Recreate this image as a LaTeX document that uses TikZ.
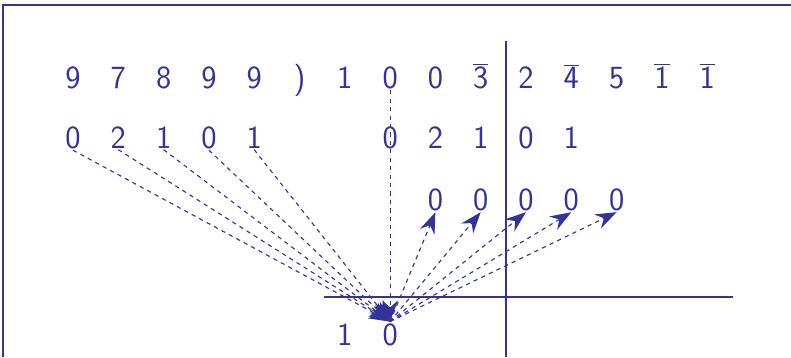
\documentclass[tikz,border=0pt]{standalone}
\usepackage{fontspec}
\usetikzlibrary{arrows.meta}
\definecolor{slblue}{RGB}{51,51,153}
\newcommand{\nbar}[1]{$\overline{\mbox{#1}}$}

\begin{document}
\begin{tikzpicture}[x=0.025cm, y=-0.025cm,
    digit/.style={anchor=base, inner sep=1pt, text=slblue, font=\sffamily\fontsize{23}{28}\selectfont},
    rule/.style={draw=slblue, line width=1pt},
    carry/.style={-{Stealth[length=15pt, width=11pt, inset=5pt]}, dashed, draw=slblue, line width=0.8pt},
]
\useasboundingbox (0,0) rectangle (791,357);

% Frame
\draw[slblue, line width=1.5pt] (3,357) -- (3,5) -- (791,5);

% Dividend and divisor
\foreach \d [count=\i from 0] in {9,7,8,9,9,),1,0,0,\nbar{3},2,\nbar{4},5,\nbar{1},\nbar{1}}
    \node[digit] (a\i) at (73+45.3*\i, 88) {\d};

% Second row
\foreach \d [count=\i from 0] in {0,2,1,0,1}
    \node[digit] (b\i) at (73+45.3*\i, 148) {\d};
\foreach \d [count=\i from 7] in {0,2,1,0,1}
    \node[digit] (b\i) at (73+45.3*\i, 148) {\d};

% Third row
\foreach \i in {8,...,12}
    \node[digit] (c\i) at (73+45.3*\i, 210) {0};

% Quotient
\node[digit] (d6) at (73+45.3*6, 345) {1};
\node[digit] (d7) at (73+45.3*7, 345) {0};

% Rules
\draw[rule] (506,41) -- (506,357);
\draw[rule] (324,297) -- (733,297);

% Arrows
\foreach \i in {0,...,4}
    \draw[carry] (b\i.south) -- (d7.north);
\draw[carry] (a7.south) -- (d7.north);
\foreach \i in {8,...,12}
    \draw[carry] (d7.north) -- (c\i.south);

\end{tikzpicture}
\end{document}
